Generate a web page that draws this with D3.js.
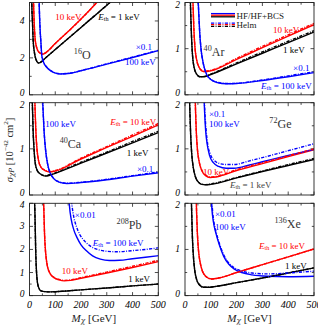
<!DOCTYPE html>
<html><head><meta charset="utf-8">
<script src="https://cdn.jsdelivr.net/npm/d3@7"></script>
<style>body{margin:0;background:#fff}svg{display:block}text{font-family:"Liberation Serif","DejaVu Serif",serif}</style>
</head><body><svg id="c" width="318" height="326"></svg>
<script>
// ---------------- data ----------------
const massTicks = [0, 100, 200, 300, 400, 500];
const nuclei = ["16O", "40Ar", "40Ca", "72Ge", "208Pb", "136Xe"];
const yMax = [5, 2, 2, 2, 4, 2];
const yLabelStep = [2, 1, 1, 1, 1, 1];
const thresholds = ["1 keV", "10 keV", "100 keV"];

// 16O
const O_1keV = [[8.5,5.3],[9.5,4.6],[11.5,4.0],[14,3.0],[19,2.3],[26,1.88],[35,1.72],[45,1.78],[60,1.97],[100,2.45],[150,3.05],[200,3.65],[250,4.25],[300,4.85],[320,5.1]];
const O_10keV = [[15,5.3],[16.5,4.6],[18,4.0],[22,3.0],[28,2.55],[36,2.32],[52,2.2],[65,2.3],[100,2.78],[150,3.43],[200,4.1],[261,5.0],[280,5.3]];
const O_100keV = [[37,5.3],[38.5,4.5],[41,3.6],[44,2.9],[48,2.1],[55,1.75],[67,1.49],[80,1.32],[93,1.22],[119,1.13],[160,1.17],[200,1.3],[300,1.66],[400,2.02],[500,2.39]];
const O_100keV_Helm = [[37,5.3],[38.5,4.5],[41,3.6],[44,2.9],[48,2.1],[55,1.76],[67,1.5],[80,1.33],[93,1.23],[119,1.14],[160,1.18],[200,1.31],[300,1.68],[400,2.04],[500,2.41]];
// 40Ar
const Ar_1keV = [[20,2.2],[22,1.8],[25,1.3],[28,0.95],[30,0.8],[35,0.6],[45,0.45],[58,0.39],[75,0.39],[100,0.44],[200,0.67],[300,0.9],[400,1.13],[500,1.36]];
const Ar_1keV_Helm = [[20,2.2],[22,1.8],[25,1.3],[28,0.95],[30,0.8],[35,0.6],[45,0.45],[58,0.39],[75,0.4],[100,0.45],[200,0.69],[300,0.93],[400,1.16],[500,1.39]];
const Ar_10keV = [[30,2.2],[32,1.8],[35,1.35],[39,1.0],[45,0.76],[55,0.59],[65,0.52],[78,0.5],[100,0.52],[200,0.77],[300,1.02],[400,1.27],[500,1.52]];
const Ar_10keV_Helm = [[30,2.2],[32,1.8],[35,1.35],[39,1.0],[45,0.76],[55,0.59],[65,0.53],[78,0.51],[100,0.53],[200,0.79],[300,1.05],[400,1.3],[500,1.55]];
const Ar_100keV = [[50,2.2],[53,1.8],[57,1.35],[62,1.0],[70,0.7],[84,0.44],[100,0.33],[125,0.265],[161,0.24],[200,0.245],[300,0.31],[400,0.39],[500,0.48]];
const Ar_100keV_Helm = [[50,2.2],[53,1.8],[57,1.35],[62,1.0],[70,0.7],[84,0.44],[100,0.335],[125,0.27],[161,0.245],[200,0.25],[300,0.32],[400,0.41],[500,0.5]];
// 40Ca
const Ca_1keV = [[10,2.2],[12,1.8],[14,1.4],[17,1.05],[22,0.7],[30,0.53],[41,0.46],[61,0.41],[80,0.43],[100,0.47],[200,0.69],[300,0.91],[400,1.13],[500,1.35]];
const Ca_1keV_Helm = [[10,2.2],[12,1.8],[14,1.4],[17,1.05],[22,0.7],[30,0.53],[41,0.46],[61,0.42],[80,0.44],[100,0.48],[200,0.71],[300,0.93],[400,1.16],[500,1.38]];
const Ca_10keV = [[20,2.2],[22,1.8],[25,1.35],[29,1.0],[35,0.75],[45,0.6],[60,0.53],[80,0.5],[100,0.52],[200,0.78],[300,1.03],[400,1.27],[500,1.52]];
const Ca_10keV_Helm = [[20,2.2],[22,1.8],[25,1.35],[29,1.0],[35,0.75],[45,0.6],[60,0.54],[80,0.51],[100,0.53],[200,0.8],[300,1.05],[400,1.3],[500,1.55]];
const Ca_100keV = [[50,2.2],[53,1.8],[57,1.35],[62,1.0],[70,0.68],[80,0.48],[95,0.35],[115,0.28],[145,0.25],[200,0.27],[300,0.33],[400,0.41],[500,0.48]];
const Ca_100keV_Helm = [[50,2.2],[53,1.8],[57,1.35],[62,1.0],[70,0.68],[80,0.48],[95,0.355],[115,0.285],[145,0.255],[200,0.275],[300,0.34],[400,0.42],[500,0.5]];
// 72Ge
const Ge_1keV = [[17,2.2],[19,1.8],[22,1.3],[26,0.9],[32,0.6],[40,0.4],[52,0.28],[65,0.23],[80,0.22],[100,0.23],[200,0.37],[300,0.51],[400,0.64],[500,0.77]];
const Ge_1keV_Helm = [[17,2.2],[19,1.8],[22,1.3],[26,0.9],[32,0.6],[40,0.4],[52,0.28],[65,0.235],[80,0.225],[100,0.24],[200,0.38],[300,0.52],[400,0.66],[500,0.79]];
const Ge_10keV = [[39,2.2],[41,1.8],[44,1.35],[48,1.0],[55,0.72],[65,0.53],[80,0.42],[97,0.38],[120,0.39],[200,0.53],[300,0.68],[400,0.83],[500,0.98]];
const Ge_10keV_Helm = [[39,2.2],[41,1.8],[44,1.35],[48,1.0],[55,0.72],[65,0.54],[80,0.43],[97,0.39],[120,0.4],[200,0.55],[300,0.7],[400,0.85],[500,1.0]];
const Ge_100keV = [[73,2.2],[76,1.8],[80,1.4],[86,1.1],[95,0.86],[110,0.7],[130,0.62],[160,0.58],[190,0.58],[250,0.65],[300,0.72],[400,0.86],[500,0.99]];
const Ge_100keV_Helm = [[74,2.2],[77,1.8],[82,1.4],[88,1.1],[97,0.9],[112,0.76],[130,0.69],[160,0.66],[190,0.66],[250,0.74],[300,0.81],[400,0.96],[500,1.11]];
// 208Pb
const Pb_1keV = [[19,4.4],[21,3.6],[22.5,2.8],[24,2.0],[26,1.3],[29,0.75],[34,0.4],[43,0.22],[60,0.17],[80,0.16],[100,0.17],[200,0.25],[300,0.33],[400,0.42],[500,0.5]];
const Pb_10keV = [[54,4.4],[56,3.6],[58,2.8],[61,2.1],[65,1.6],[70,1.25],[80,0.95],[95,0.78],[115,0.68],[135,0.64],[160,0.66],[200,0.75],[300,0.98],[400,1.22],[500,1.47]];
const Pb_10keV_Helm = [[54,4.4],[56,3.6],[58,2.8],[61,2.1],[65,1.6],[70,1.26],[80,0.96],[95,0.79],[115,0.7],[135,0.66],[160,0.68],[200,0.78],[300,1.02],[400,1.27],[500,1.53]];
const Pb_100keV = [[152,4.4],[155,3.9],[162,3.3],[172,2.85],[185,2.5],[200,2.2],[220,1.95],[245,1.72],[275,1.58],[310,1.52],[350,1.53],[400,1.6],[450,1.66],[500,1.73]];
const Pb_100keV_Helm = [[160,4.4],[165,3.9],[172,3.4],[182,3.0],[195,2.65],[215,2.35],[240,2.12],[270,1.98],[300,1.92],[340,1.9],[400,1.95],[450,2.0],[500,2.07]];
// 136Xe
const Xe_1keV = [[24,2.2],[26,1.8],[28.5,1.3],[32,0.9],[37,0.58],[45,0.35],[55,0.24],[71,0.18],[90,0.18],[120,0.2],[200,0.28],[300,0.38],[400,0.49],[500,0.6]];
const Xe_10keV = [[43,2.2],[45,1.8],[48,1.35],[52,1.0],[58,0.74],[67,0.54],[80,0.42],[103,0.36],[130,0.38],[200,0.5],[300,0.67],[400,0.84],[500,1.01]];
const Xe_100keV = [[101,2.2],[104,1.9],[110,1.6],[120,1.35],[133,1.1],[150,0.85],[170,0.68],[190,0.58],[220,0.5],[260,0.45],[320,0.42],[400,0.41],[500,0.42]];
const Xe_100keV_Helm = [[103,2.2],[106,1.9],[112,1.6],[122,1.35],[135,1.1],[152,0.86],[172,0.69],[192,0.6],[220,0.53],[260,0.49],[320,0.47],[400,0.49],[500,0.53]];

// ---------------- layout ----------------
const cols = [[29.5, 158.3], [185, 314]];
const rows = [[2.5, 94.8], [102.7, 195], [203.3, 295.6]];
const colors = {k: "#000000", r: "#ff0000", b: "#0000ff"};
const dashHelm = "3.2,1.4,0.9,1.4";

const panels = [
  {row:0, col:0, series:[[O_1keV,"k"],[O_10keV,"r"],[O_100keV,"b"]], helm:[[O_1keV,"k"],[O_10keV,"r"],[O_100keV_Helm,"b"]],
   notes:[{p:[{t:"10 keV"}],c:"r",at:[100,4.22]},{p:[{t:"E",i:1},{t:"th",sub:1},{t:" = 1 keV"}],c:"k",at:[267,4.22]},
          {p:[{t:"16",sup:1},{t:"O"}],c:"n",at:[172,2.17]},{p:[{t:"×0.1"}],c:"b",at:[412,2.6]},{p:[{t:"100 keV"}],c:"b",at:[371,1.75]}]},
  {row:0, col:1, series:[[Ar_1keV,"k"],[Ar_10keV,"r"],[Ar_100keV,"b"]], helm:[[Ar_1keV_Helm,"k"],[Ar_10keV_Helm,"r"],[Ar_100keV_Helm,"b"]],
   notes:[{p:[{t:"10 keV"}],c:"r",at:[341,1.41]},{p:[{t:"40",sup:1},{t:"Ar"}],c:"n",at:[72,0.92]},{p:[{t:"1 keV"}],c:"k",at:[380,0.96]},
          {p:[{t:"×0.1"}],c:"b",at:[419,0.57]},{p:[{t:"E",i:1},{t:"th",sub:1},{t:" = 100 keV"}],c:"b",at:[295,0.18]}]},
  {row:1, col:0, series:[[Ca_1keV,"k"],[Ca_10keV,"r"],[Ca_100keV,"b"]], helm:[[Ca_1keV_Helm,"k"],[Ca_10keV_Helm,"r"],[Ca_100keV_Helm,"b"]],
   notes:[{p:[{t:"100 keV"}],c:"b",at:[61,1.54]},{p:[{t:"E",i:1},{t:"th",sub:1},{t:" = 10 keV"}],c:"r",at:[313,1.58]},
          {p:[{t:"40",sup:1},{t:"Ca"}],c:"n",at:[117,1.1]},{p:[{t:"1 keV"}],c:"k",at:[378,0.92]},{p:[{t:"×0.1"}],c:"b",at:[417,0.56]}]},
  {row:1, col:1, series:[[Ge_1keV,"k"],[Ge_10keV,"r"],[Ge_100keV,"b"]], helm:[[Ge_1keV_Helm,"k"],[Ge_10keV_Helm,"r"],[Ge_100keV_Helm,"b"]],
   notes:[{p:[{t:"×0.1"}],c:"b",at:[93,1.75]},{p:[{t:"100 keV"}],c:"b",at:[93,1.53]},{p:[{t:"72",sup:1},{t:"Ge"}],c:"n",at:[327,1.54]},
          {p:[{t:"10 keV"}],c:"r",at:[70,0.49]},{p:[{t:"E",i:1},{t:"th",sub:1},{t:" = 1 keV"}],c:"g",at:[174,0.22]}]},
  {row:2, col:0, series:[[Pb_1keV,"k"],[Pb_10keV,"r"],[Pb_100keV,"b"]], helm:[[Pb_1keV,"k"],[Pb_10keV_Helm,"r"],[Pb_100keV_Helm,"b"]],
   notes:[{p:[{t:"×0.01"}],c:"b",at:[176,3.5]},{p:[{t:"208",sup:1},{t:"Pb"}],c:"n",at:[338,3.06]},
          {p:[{t:"E",i:1},{t:"th",sub:1},{t:" = 100 keV"}],c:"b",at:[246,2.27]},{p:[{t:"10 keV"}],c:"r",at:[125,1.08]},{p:[{t:"1 keV"}],c:"k",at:[383,0.72]}]},
  {row:2, col:1, series:[[Xe_1keV,"k"],[Xe_10keV,"r"],[Xe_100keV,"b"]], helm:[[Xe_1keV,"k"],[Xe_10keV,"r"],[Xe_100keV_Helm,"b"]],
   notes:[{p:[{t:"×0.01"}],c:"b",at:[116,1.76]},{p:[{t:"100 keV"}],c:"b",at:[116,1.49]},{p:[{t:"136",sup:1},{t:"Xe"}],c:"n",at:[347,1.56]},
          {p:[{t:"E",i:1},{t:"th",sub:1},{t:" = 10 keV"}],c:"r",at:[287,1.07]},{p:[{t:"1 keV"}],c:"k",at:[388,0.65]}]}
];

const svg = d3.select("#c");
const textColor = {k:"#000", r:"#ff0000", b:"#0000ff", n:"#333", g:"#444"};

function rich(g, parts, x, y, size, fill, anchor) {
  const t = g.append("text").attr("x", x).attr("y", y).attr("font-size", size)
    .attr("fill", fill).attr("text-anchor", anchor || "start").attr("dominant-baseline", "central");
  parts.forEach(p => {
    const s = t.append("tspan").text(p.t);
    if (p.i) s.attr("font-style", "italic");
    if (p.greek) s.attr("font-family", "DejaVu Serif");
    if (p.sub) s.attr("baseline-shift", "-30%").attr("font-size", size * 0.68);
    if (p.sup) s.attr("baseline-shift", "45%").attr("font-size", size * 0.68);
  });
  return t;
}

panels.forEach((P, idx) => {
  const [x0, x1] = cols[P.col], [y0, y1] = rows[P.row];
  const x = d3.scaleLinear().domain([0, 500]).range([x0, x1]);
  const y = d3.scaleLinear().domain([0, yMax[idx]]).range([y1, y0]);
  const g = svg.append("g");
  const cid = "clip" + idx;
  svg.append("clipPath").attr("id", cid).append("rect").attr("x", x0).attr("y", y0).attr("width", x1 - x0).attr("height", y1 - y0);

  // ticks
  const ticksG = g.append("g").attr("stroke", "#222").attr("stroke-width", 0.8);
  const xt = d3.range(0, 501, 50);
  xt.forEach(v => {
    const L = v % 100 === 0 ? 3.5 : 2.2;
    ticksG.append("line").attr("x1", x(v)).attr("x2", x(v)).attr("y1", y1).attr("y2", y1 - L);
    ticksG.append("line").attr("x1", x(v)).attr("x2", x(v)).attr("y1", y0).attr("y2", y0 + L);
  });
  const step = yLabelStep[idx] / 2;
  const yt = d3.range(0, yMax[idx] + 1e-9, step);
  yt.forEach((v, i) => {
    const L = i % 2 === 0 ? 3.5 : 2.2;
    ticksG.append("line").attr("x1", x0).attr("x2", x0 + L).attr("y1", y(v)).attr("y2", y(v));
    ticksG.append("line").attr("x1", x1).attr("x2", x1 - L).attr("y1", y(v)).attr("y2", y(v));
  });
  // y tick labels (nudged inward at the panel edges so neighbouring panels' labels don't collide)
  d3.range(0, yMax[idx] + 1e-9, yLabelStep[idx]).forEach(v => {
    let yy = y(v);
    if (v === 0) yy -= 1.8;
    if (Math.abs(yy - y0) < 0.5) yy = Math.max(yy + 1.8, 4.8);
    g.append("text").attr("x", x0 - 5).attr("y", yy).attr("text-anchor", "end").attr("dominant-baseline", "central")
      .attr("font-size", 9.5).attr("font-style", "italic").text(v);
  });
  // x tick labels on bottom row
  if (P.row === 2) {
    massTicks.forEach(v => {
      g.append("text").attr("x", x(v)).attr("y", y1 + 9).attr("text-anchor", "middle").attr("dominant-baseline", "central")
        .attr("font-size", 10).attr("font-style", "italic").text(v);
    });
  }

  const line = d3.line().x(d => x(d[0])).y(d => y(d[1])).curve(d3.curveMonotoneX);
  const cg = g.append("g").attr("clip-path", `url(#${cid})`).attr("fill", "none");
  P.series.forEach(([data, c]) => {
    cg.append("path").attr("d", line(data)).attr("stroke", colors[c]).attr("stroke-width", 1.4);
  });
  P.helm.forEach(([data, c]) => {
    cg.append("path").attr("d", line(data)).attr("stroke", colors[c]).attr("stroke-width", 1.4).attr("stroke-dasharray", dashHelm);
  });

  // frame
  g.append("rect").attr("x", x0).attr("y", y0).attr("width", x1 - x0).attr("height", y1 - y0)
    .attr("fill", "none").attr("stroke", "#222").attr("stroke-width", 0.9);

  // annotations
  P.notes.forEach(n => {
    const isNuc = n.c === "n";
    rich(g, n.p, x(n.at[0]), y(n.at[1]), isNuc ? 12 : 9, textColor[n.c]);
  });

  // legend in the Ar panel
  if (idx === 1) {
    const lg = g.append("g").attr("fill", "none");
    const lx0 = 211, lx1 = 235;
    [["b", 13.6], ["r", 15.2], ["k", 16.8]].forEach(([c, yy]) => {
      lg.append("line").attr("x1", lx0).attr("x2", lx1).attr("y1", yy).attr("y2", yy).attr("stroke", colors[c]).attr("stroke-width", 1.3);
      lg.append("line").attr("x1", lx0).attr("x2", lx1).attr("y1", yy + 9.5).attr("y2", yy + 9.5).attr("stroke", colors[c]).attr("stroke-width", 1.3).attr("stroke-dasharray", dashHelm);
    });
    rich(g, [{t:"HF/HF+BCS"}], 236.5, 15.5, 9, "#222");
    rich(g, [{t:"Helm"}], 236.5, 25, 9, "#222");
  }
});

// axis titles
const yl = svg.append("g").attr("transform", "translate(9,150) rotate(-90)");
rich(yl, [{t:"σ",i:1},{t:"χP",i:1,sub:1,greek:1},{t:" [10"},{t:"−42",sup:1},{t:" cm"},{t:"2",sup:1},{t:"]"}], 0, 0, 10.5, "#222", "middle");
[0, 1].forEach(ci => {
  const cx = (cols[ci][0] + cols[ci][1]) / 2;
  rich(svg, [{t:"M",i:1},{t:"χ",i:1,sub:1,greek:1},{t:" [GeV]"}], cx, 318, 11, "#222", "middle");
});
</script></body></html>
